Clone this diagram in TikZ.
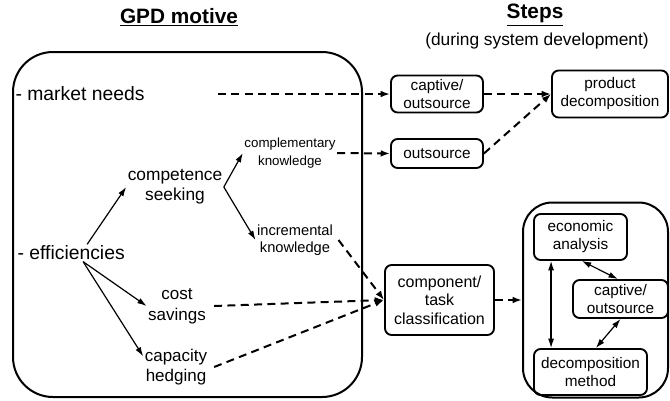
\documentclass[tikz,border=0pt]{standalone}
\usepackage{fontspec}
\setmainfont{Liberation Sans}
\usepackage{tikz}
\usetikzlibrary{arrows.meta}
\usetikzlibrary{positioning}

\tikzset{
  lbl/.style={align=center, inner sep=1pt},
  stepbox/.style={draw, line width=1.4pt, rounded corners=5pt, align=center, inner sep=0pt, font=\fontsize{11.5}{13.5}\selectfont},
  groupbox/.style={draw, line width=1.5pt, inner sep=0pt},
  dashto/.style={line width=1.5pt, dash pattern=on 6pt off 4pt, -{Latex[length=7pt,width=5pt]}},
  solidto/.style={line width=0.9pt, -{Latex[length=7pt,width=4.5pt]}},
  bothto/.style={line width=0.9pt, {Latex[length=7pt,width=4.5pt]}-{Latex[length=7pt,width=4.5pt]}}
}

\begin{document}
\begin{tikzpicture}[x=0.75pt,y=-0.75pt]
  \useasboundingbox (0,0) rectangle (670,400);

  \node (motive) [groupbox, rounded corners=30pt, minimum width=261.75pt, minimum height=258.75pt] at (187.5,224.5) {};
  \node (grp) [groupbox, rounded corners=22pt, minimum width=108.75pt, minimum height=146.25pt] at (595.5,300) {};

  \node (title1) [lbl, font=\fontsize{15.6}{18}\selectfont] at (179,17) {\underline{\textbf{GPD motive}}};
  \node (title2) [lbl, font=\fontsize{15.6}{18}\selectfont] at (535,15) {\underline{\textbf{Steps}}};
  \node (sub2) [lbl, font=\fontsize{13}{15}\selectfont] at (537,41) {(during system development)};

  \node (mkt) [lbl, anchor=west, font=\fontsize{14.5}{17}\selectfont] at (14,94) {- market needs};
  \node (eff) [lbl, anchor=west, font=\fontsize{14.5}{17}\selectfont] at (16,253) {- efficiencies};
  \node (comp) [lbl, font=\fontsize{13}{15}\selectfont] at (175,187) {competence\\seeking};
  \node (compl) [lbl, font=\fontsize{10}{13.5}\selectfont] at (290,153) {complementary\\knowledge};
  \node (incr) [lbl, font=\fontsize{11}{12.5}\selectfont] at (295,240) {incremental\\knowledge};
  \node (cost) [lbl, font=\fontsize{12.75}{16}\selectfont] at (177,306) {cost\\savings};
  \node (cap) [lbl, font=\fontsize{12.75}{15.5}\selectfont] at (176,367) {capacity\\hedging};

  \node (cap1) [stepbox, minimum width=69pt, minimum height=27.75pt] at (437,94) {captive/\\outsource};
  \node (out) [stepbox, minimum width=69pt, minimum height=21.75pt] at (437,153.5) {outsource};
  \node (prod) [stepbox, minimum width=87pt, minimum height=35.25pt] at (610,94) {product\\decomposition};
  \node (task) [stepbox, minimum width=81.75pt, minimum height=52.5pt, font=\fontsize{12}{14}\selectfont] at (439.5,300) {component/\\task\\classification};
  \node (econ) [stepbox, minimum width=69.75pt, minimum height=34.5pt] at (580.5,237) {economic\\analysis};
  \node (cap2) [stepbox, minimum width=71.25pt, minimum height=28.5pt] at (620.5,299) {captive/\\outsource};
  \node (decomp) [stepbox, minimum width=84.75pt, minimum height=34.5pt] at (590.5,372) {decomposition\\method};

  \draw[solidto] ([xshift=12pt]eff.north) -- (comp.west);
  \draw[solidto] ([xshift=9pt]eff.south) -- (cost.west);
  \draw[solidto] ([xshift=9pt]eff.south) -- ([yshift=8pt]cap.west);
  \draw[solidto] (comp.east) -- (compl.west);
  \draw[solidto] (comp.east) -- (incr.west);

  \draw[dashto] ([xshift=54pt]mkt.east) -- (cap1.west);
  \draw[dashto] (cap1.east) -- (prod.west);
  \draw[dashto] (out.east) -- (prod.west);
  \draw[dashto] (compl.east) -- (out.west);
  \draw[dashto] ([xshift=3pt]incr.east) -- (task.west);
  \draw[dashto] ([xshift=5pt]cost.east) -- (task.west);
  \draw[dashto] ([xshift=4pt]cap.east) -- (task.west);
  \draw[dashto] (task.east) -- (grp.west);

  \draw[bothto] ([xshift=13.5pt]econ.south west) -- ([xshift=13.5pt]decomp.north west);
  \draw[bothto] ([xshift=1pt]econ.south) -- ([xshift=-2pt]cap2.north);
  \draw[bothto] (cap2.south) -- ([xshift=4pt]decomp.north);
\end{tikzpicture}
\end{document}
